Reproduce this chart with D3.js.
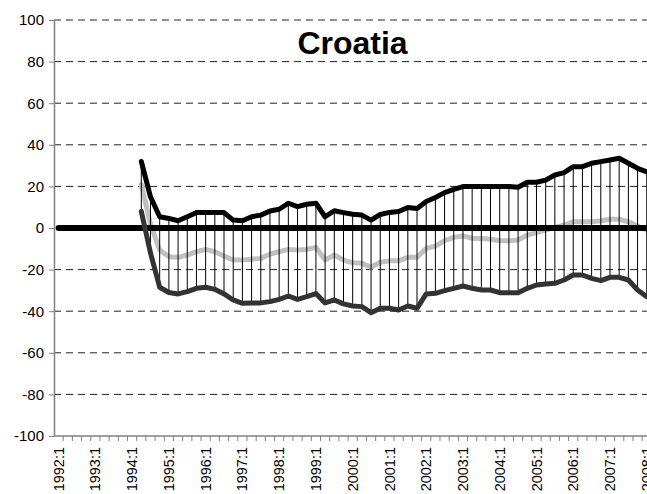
<!DOCTYPE html>
<html>
<head>
<meta charset="utf-8">
<script src="https://cdn.jsdelivr.net/npm/d3@7"></script>
<style>
  body { margin: 0; background: #fff; }
  svg { display: block; font-family: Arial, "Liberation Sans", sans-serif; }
</style>
</head>
<body>
<div id="chart"></div>
<script>
// categories: quarters 1992:1 .. 2008:4
const years = d3.range(1992, 2009)
const quarters = years.flatMap(y => [1, 2, 3, 4].map(q => y + ":" + q))
const yTicks = [-100, -80, -60, -40, -20, 0, 20, 40, 60, 80, 100]

// series start at 1994:2
const seriesStart = "1994:2"
const upper = [32, 15, 5.4, 4.6, 3.5, 5.4, 7.4, 7.4, 7.4, 7.4, 3.8, 3.5, 5.4, 6.2, 8.2, 9, 11.9, 10.3, 11.4, 11.9,
  5.4, 8.3, 7.4, 6.6, 6.2, 3.8, 6.5, 7.5, 7.9, 9.9, 9.4, 12.7, 14.7, 17, 18.6, 19.9, 20, 20, 20, 20,
  20, 19.6, 22, 22, 23, 25.5, 26.6, 29.5, 29.5, 31.1, 31.9, 32.7, 33.5, 31.1, 28.7, 27]
const middle = [21, 2, -10.6, -13.8, -14.1, -13, -11.4, -10.3, -11.4, -13.5, -15.4, -15.4, -15, -14.6, -12.5, -11.4, -10.3, -10.6, -10.3, -9.3,
  -15.4, -13, -15.4, -16.7, -17, -18.9, -16.5, -15.8, -15.8, -14.1, -14.1, -9.8, -8.7, -6.1, -4.5, -3.8, -5, -5, -5.4, -6.1,
  -6.1, -5.8, -3.4, -2.2, -1, 0.3, 1.4, 3, 3, 3, 3.5, 4.2, 4.2, 3, 1, -1]
const lower = [8, -12, -28.5, -31, -31.7, -30.6, -29, -28.5, -29.5, -31.7, -34.6, -36.2, -36, -36, -35.4, -34.3, -32.7, -34.3, -33, -31.5,
  -36, -34.6, -36.5, -37.5, -37.8, -40.7, -38.6, -38.6, -39.4, -37.5, -38.6, -31.7, -31.4, -30.1, -29, -27.9, -29, -29.8, -29.8, -31.1,
  -31.1, -31.1, -29, -27.4, -26.9, -26.6, -25, -22.6, -22.6, -24.2, -25.3, -23.7, -23.7, -25, -29.8, -33]

const W = 647, H = 494
const plotLeft = 54, plotTop = 20, plotBottom = 436
const step = 9.19

const svg = d3.select("#chart").append("svg")
    .attr("width", W)
    .attr("height", H)

const x = d3.scaleBand()
    .domain(quarters)
    .range([plotLeft, plotLeft + step * quarters.length])
    .padding(0)

const y = d3.scaleLinear()
    .domain([-100, 100])
    .range([plotBottom, plotTop])

const cx = q => x(q) + x.bandwidth() / 2
const i0 = quarters.indexOf(seriesStart)
const rows = upper.map((u, i) => ({ q: quarters[i0 + i], up: u, mid: middle[i], low: lower[i] }))

// dashed gridlines
svg.append("g")
    .selectAll("line")
    .data(yTicks.filter(d => d !== 0 && d !== -100))
    .enter().append("line")
    .attr("x1", plotLeft).attr("x2", W)
    .attr("y1", d => y(d)).attr("y2", d => y(d))
    .attr("stroke", "#222")
    .attr("stroke-width", 1)
    .attr("stroke-dasharray", "7,5")

// y axis
const yAxis = svg.append("g")
    .attr("transform", "translate(" + plotLeft + ",0)")
    .call(d3.axisLeft(y).tickValues(yTicks).tickFormat(d => String(d)).tickSize(5).tickSizeOuter(0).tickPadding(5))
yAxis.select(".domain").attr("stroke", "#808080").attr("stroke-width", 1.5)
yAxis.selectAll(".tick line").attr("stroke", "#808080")
yAxis.selectAll("text").style("font-size", "15px").attr("fill", "#000")
yAxis.attr("font-family", null)

// x axis line + quarter ticks
const xg = svg.append("g")
xg.append("line")
    .attr("x1", plotLeft).attr("x2", W)
    .attr("y1", plotBottom).attr("y2", plotBottom)
    .attr("stroke", "#808080").attr("stroke-width", 1.5)
xg.selectAll(".qtick")
    .data(quarters)
    .enter().append("line")
    .attr("class", "qtick")
    .attr("x1", d => x(d) + x.bandwidth()).attr("x2", d => x(d) + x.bandwidth())
    .attr("y1", plotBottom).attr("y2", plotBottom + 5)
    .attr("stroke", "#808080")
xg.selectAll(".qlabel")
    .data(quarters.filter(d => d.endsWith(":1")))
    .enter().append("text")
    .attr("class", "qlabel")
    .attr("transform", d => "translate(" + cx(d) + "," + (plotBottom + 11) + ") rotate(-90)")
    .attr("dy", "0.35em")
    .attr("text-anchor", "end")
    .style("font-size", "14.5px")
    .text(d => d)

// gray middle line
const line = key => d3.line().x(d => cx(d.q)).y(d => y(d[key]))

svg.append("path")
    .datum(rows)
    .attr("d", line("mid"))
    .attr("fill", "none")
    .attr("stroke", "#c0c0c0")
    .attr("stroke-width", 5)
    .attr("stroke-linejoin", "round")
    .attr("stroke-linecap", "round")

// high-low lines
svg.append("g")
    .selectAll("line")
    .data(rows)
    .enter().append("line")
    .attr("x1", d => cx(d.q)).attr("x2", d => cx(d.q))
    .attr("y1", d => y(d.up)).attr("y2", d => y(d.low))
    .attr("stroke", "#000")
    .attr("stroke-width", 1)

// zero line
svg.append("path")
    .datum(quarters)
    .attr("d", d3.line().x(d => cx(d)).y(() => y(0)))
    .attr("fill", "none")
    .attr("stroke", "#000")
    .attr("stroke-width", 6)
    .attr("stroke-linecap", "round")

svg.append("path")
    .datum(rows)
    .attr("d", line("low"))
    .attr("fill", "none")
    .attr("stroke", "#333")
    .attr("stroke-width", 5)
    .attr("stroke-linejoin", "round")
    .attr("stroke-linecap", "round")

svg.append("path")
    .datum(rows)
    .attr("d", line("up"))
    .attr("fill", "none")
    .attr("stroke", "#000")
    .attr("stroke-width", 5)
    .attr("stroke-linejoin", "round")
    .attr("stroke-linecap", "round")

// title
svg.append("text")
    .attr("x", 352.5)
    .attr("y", 54)
    .attr("text-anchor", "middle")
    .style("font-size", "32px")
    .style("font-weight", "bold")
    .text("Croatia")
</script>
</body>
</html>
